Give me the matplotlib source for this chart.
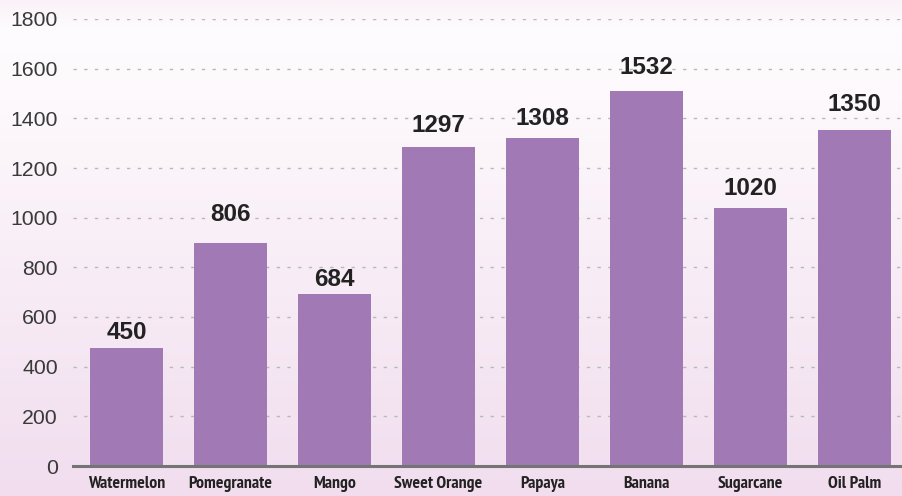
import numpy as np
import matplotlib
matplotlib.use("Agg")
import matplotlib.pyplot as plt
from matplotlib import font_manager
from matplotlib.colors import LinearSegmentedColormap

# chart data
# -----------------------------------------------------------------------------
crops = ["Watermelon", "Pomegranate", "Mango", "Sweet Orange",
         "Papaya", "Banana", "Sugarcane", "Oil Palm"]
bar_heights = [475, 898, 693, 1285, 1321, 1510, 1039, 1353]
bar_labels = ["450", "806", "684", "1297", "1308", "1532", "1020", "1350"]
y_ticks = [0, 200, 400, 600, 800, 1000, 1200, 1400, 1600, 1800]

# gap (points) between bar top and its label, as placed in the original
label_gap = [3, 12, 2, 7, 6, 9, 6, 10]

BAR_COLOR = "#a17ab5"
FONT = ["Liberation Sans", "DejaVu Sans"]


# pick a font file by (lowercase) pieces of its file name
# -----------------------------------------------------------------------------
def font_by_file(keys, avoid=(), size=12):
    for f in font_manager.fontManager.ttflist:
        name = f.fname.lower().split("/")[-1]
        if all(k in name for k in keys) and not any(a in name for a in avoid):
            return font_manager.FontProperties(fname=f.fname, size=size)
    return None


narrow_bold = (font_by_file(["liberationsansnarrow-bold"], ["italic"], 12.8)
               or font_by_file(["narrow", "bold"], ["italic", "oblique"], 12.8)
               or font_by_file(["dejavusanscondensed-bold"], [], 11)
               or font_manager.FontProperties(family=FONT, weight="bold", size=11))
label_bold = (font_by_file(["liberationsans-bold.ttf"], [], 17.5)
              or font_manager.FontProperties(family=FONT, weight="bold", size=17.5))
tick_font = (font_by_file(["liberationsans-regular.ttf"], [], 15.3)
             or font_manager.FontProperties(family=FONT, size=15.3))

fig = plt.figure(figsize=(9.02, 4.96), dpi=100)

# pink vertical gradient background
bg = fig.add_axes([0, 0, 1, 1])
cmap = LinearSegmentedColormap.from_list(
    "bg", [(0.0, "#faf2f8"), (0.06, "#fefcfe"), (0.2, "#fdf9fc"), (1.0, "#f1ddee")])
grad = np.linspace(0, 1, 256).reshape(-1, 1)
bg.imshow(grad, aspect="auto", cmap=cmap, extent=[0, 1, 1, 0])
bg.set_axis_off()

ax = fig.add_axes([73 / 902, 30 / 496, 829 / 902, 447 / 496])
ax.set_facecolor("none")

x = np.arange(len(crops))
ax.bar(x, bar_heights, width=0.70, color=BAR_COLOR, zorder=3)

for xi, h, lab, gap in zip(x, bar_heights, bar_labels, label_gap):
    ax.annotate(lab, (xi, h), xytext=(0, gap), textcoords="offset points",
                ha="center", va="bottom", fontproperties=label_bold,
                color="#222222", clip_on=False, zorder=4)

ax.set_xlim(-0.514, 7.46)
ax.set_ylim(0, 1800)
ax.set_yticks(y_ticks)
ax.set_yticklabels([str(t) for t in y_ticks], fontproperties=tick_font, color="#3a3a3a")
ax.set_xticks(x)
ax.set_xticklabels(crops, fontproperties=narrow_bold, color="#222222")
ax.tick_params(axis="y", length=0, pad=11)
ax.tick_params(axis="x", length=0, pad=7)

ax.grid(axis="y", color="#b8b8b8", linestyle=(0, (2.4, 5.3)), linewidth=1, zorder=1)
ax.set_axisbelow(True)

for side in ("top", "right", "left"):
    ax.spines[side].set_visible(False)
ax.spines["bottom"].set_color("#747474")
ax.spines["bottom"].set_linewidth(2.2)
ax.spines["bottom"].set_zorder(5)

fig.savefig("out.png", dpi=100)
